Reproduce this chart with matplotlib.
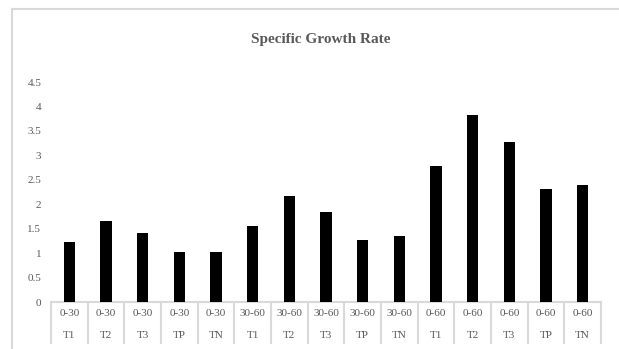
import matplotlib
matplotlib.use("Agg")
import matplotlib.pyplot as plt
from matplotlib.lines import Line2D
import matplotlib.transforms as mtransforms

periods = ["0-30"] * 5 + ["30-60"] * 5 + ["0-60"] * 5
treatments = ["T1", "T2", "T3", "TP", "TN"] * 3
values = [1.22, 1.65, 1.42, 1.03, 1.03,
          1.56, 2.16, 1.85, 1.27, 1.36,
          2.78, 3.82, 3.27, 2.32, 2.39]
yticks = [0, 0.5, 1, 1.5, 2, 2.5, 3, 3.5, 4, 4.5]
title = "Specific Growth Rate"

W, H = 619, 349
fig = plt.figure(figsize=(W / 100, H / 100), dpi=100)
fig.patch.set_facecolor("white")

serif = ["Liberation Serif", "DejaVu Serif"]
txt_color = "#595959"
line_color = "#d9d9d9"
fs = 8

left, right, bottom, top = 51, 601, 302, 82
ax = fig.add_axes([left / W, 1 - bottom / H, (right - left) / W, (bottom - top) / H])
n = len(values)
x = list(range(n))
ax.bar(x, values, width=0.31, color="black", zorder=3)
ax.set_xlim(-0.5, n - 0.5)
ax.set_ylim(0, 4.5)
ax.set_yticks(yticks)
ax.set_yticklabels([f"{t:g}" for t in yticks], fontfamily=serif, fontsize=fs, color=txt_color)
ax.tick_params(axis="y", length=0, pad=7)
ax.set_xticks([])
for s in ["top", "right", "left"]:
    ax.spines[s].set_visible(False)
ax.spines["bottom"].set_color(line_color)
ax.spines["bottom"].set_linewidth(1.5)
ax.set_facecolor("none")

# category table below the axis
trans = mtransforms.blended_transform_factory(ax.transData, ax.transAxes)
ax_h = bottom - top
div_len = 41 / ax_h
for b in [i - 0.5 for i in range(n + 1)]:
    ax.add_line(Line2D([b, b], [0, -div_len], transform=trans, color=line_color,
                       lw=1.5, clip_on=False))
for i in range(n):
    ax.text(x[i], -12 / ax_h, periods[i], transform=trans, ha="center", va="center",
            fontfamily=serif, fontsize=fs, color=txt_color)
    ax.text(x[i], -33 / ax_h, treatments[i], transform=trans, ha="center", va="center",
            fontfamily=serif, fontsize=fs, color=txt_color)

fig.text(321 / W, 1 - 40 / H, title, ha="center", va="center", fontfamily=serif,
         fontsize=11, fontweight="bold", color=txt_color)

# chart frame (partially cropped)
fig.add_artist(Line2D([12 / W, 12 / W], [0, 1 - 9 / H], transform=fig.transFigure,
                      color=line_color, lw=1.5))
fig.add_artist(Line2D([12 / W, 1], [1 - 9 / H, 1 - 9 / H], transform=fig.transFigure,
                      color=line_color, lw=1.5))

fig.savefig("out.png", dpi=100, facecolor="white")
